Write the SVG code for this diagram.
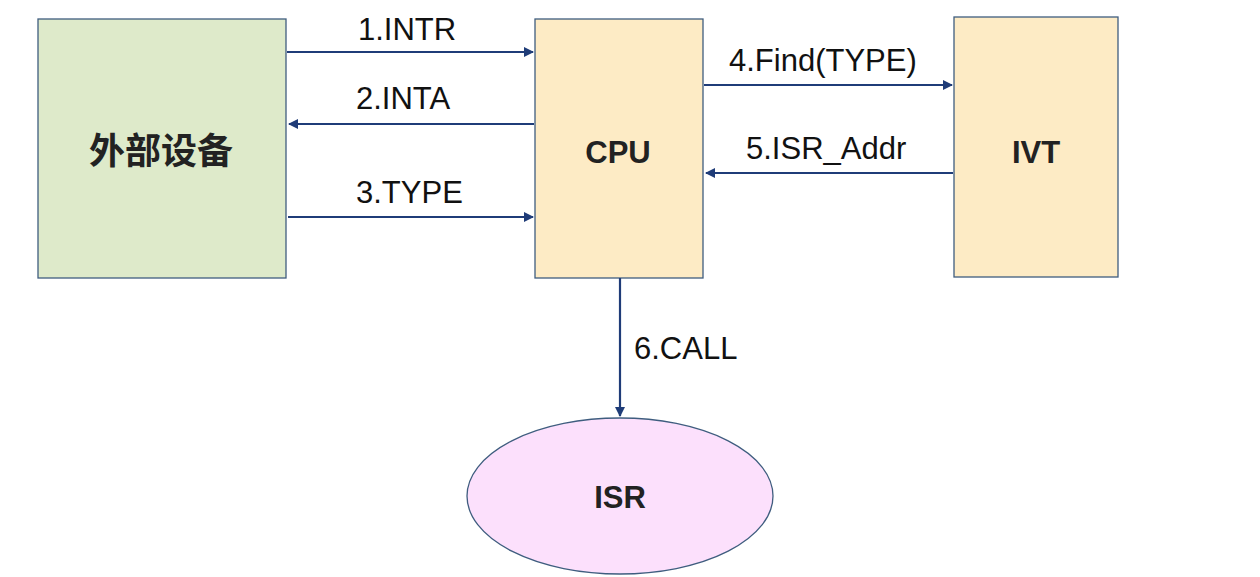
<svg xmlns="http://www.w3.org/2000/svg" width="1260" height="577" viewBox="0 0 1260 577">
<defs>
<marker id="ah" markerWidth="10" markerHeight="10" refX="9" refY="5" orient="auto" markerUnits="userSpaceOnUse">
<path d="M0,0 L10,5 L0,10 Z" fill="#1f3c78"/>
</marker>
<style>
.box{stroke:#3f5d7f;stroke-width:1.3}
.lbl{font-family:"Liberation Sans",Arial,sans-serif;font-size:31px;fill:#111}
.nl{font-family:"Liberation Sans","Noto Sans CJK SC",sans-serif;font-size:31px;font-weight:bold;fill:#222;text-anchor:middle}
.cjk{font-size:36px}
.cn{stroke:#1f3c78;stroke-width:2.2;fill:none;marker-end:url(#ah)}
</style>
</defs>
<rect width="1260" height="577" fill="#ffffff"/>
<g id="node-device"><rect class="box" x="38" y="19" width="248" height="259" fill="#deeaca"/><text class="nl cjk" x="161" y="164">外部设备</text></g>
<g id="node-cpu"><rect class="box" x="535" y="19" width="168" height="259" fill="#fdebc5"/><text class="nl" x="618" y="163">CPU</text></g>
<g id="node-ivt"><rect class="box" x="954" y="17" width="164" height="260" fill="#fdebc5"/><text class="nl" x="1036" y="163">IVT</text></g>
<g id="node-isr"><ellipse class="box" cx="620" cy="496" rx="153" ry="78" fill="#fce0fc"/><text class="nl" x="620" y="508">ISR</text></g>
<g id="connectors">
<line class="cn" x1="287" y1="52" x2="533" y2="52"/>
<line class="cn" x1="534" y1="124" x2="289" y2="124"/>
<line class="cn" x1="288" y1="217" x2="533" y2="217"/>
<line class="cn" x1="704" y1="85" x2="952" y2="85"/>
<line class="cn" x1="953" y1="173" x2="706" y2="173"/>
<line class="cn" x1="620" y1="278" x2="620" y2="416"/>
<text class="lbl" x="358" y="40">1.INTR</text>
<text class="lbl" x="356" y="109">2.INTA</text>
<text class="lbl" x="356" y="203">3.TYPE</text>
<text class="lbl" x="729" y="71">4.Find(TYPE)</text>
<text class="lbl" x="746" y="159">5.ISR_Addr</text>
<text class="lbl" x="634" y="359">6.CALL</text>
</g>
</svg>
